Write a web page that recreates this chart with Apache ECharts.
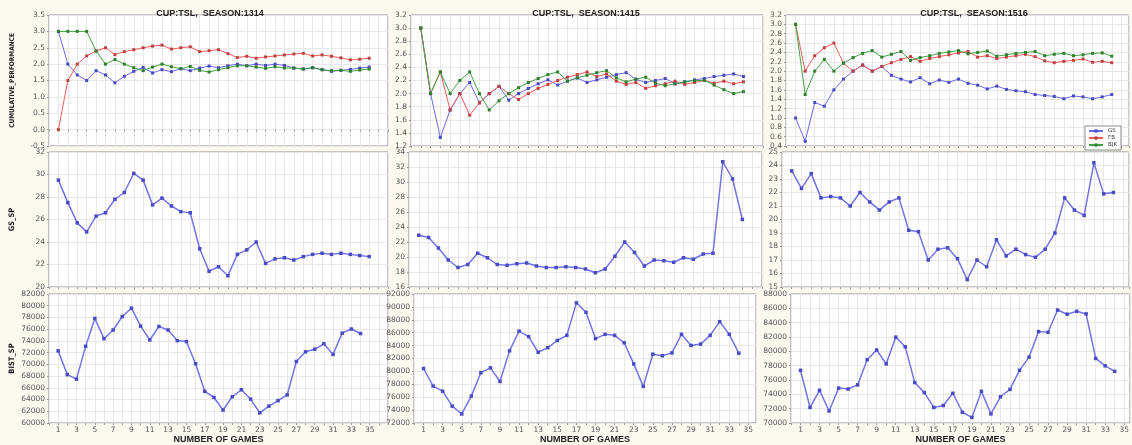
<!DOCTYPE html>
<html>
<head>
<meta charset="utf-8">
<script src="https://cdn.jsdelivr.net/npm/echarts@6/dist/echarts.min.js"></script>
<style>
  html, body { margin: 0; padding: 0; background: #fcf9ef; }
  #main { width: 1132px; height: 445px; }
</style>
</head>
<body>
<div id="main"></div>
<script>
// games 1..34
const games = [1,2,3,4,5,6,7,8,9,10,11,12,13,14,15,16,17,18,19,20,21,22,23,24,25,26,27,28,29,30,31,32,33,34];
const xTickLabels = [1,3,5,7,9,11,13,15,17,19,21,23,25,27,29,31,33,35];
const seasons = ['1314', '1415', '1516'];
const teams = ['GS', 'FB', 'BJK'];
const rowNames = ['CUMULATIVE_PERFORMANCE', 'GS_SP', 'BIST_SP'];

// cumulative performance (points per game)
const gsCum1314 = [3.0,2.0,1.67,1.5,1.8,1.67,1.43,1.63,1.78,1.9,1.73,1.83,1.77,1.86,1.8,1.88,1.94,1.89,1.95,2.0,1.95,2.0,1.96,2.0,1.96,1.88,1.85,1.89,1.83,1.78,1.81,1.84,1.88,1.91];
const fbCum1314 = [0.0,1.5,2.0,2.25,2.4,2.5,2.29,2.38,2.44,2.5,2.55,2.58,2.46,2.5,2.53,2.38,2.41,2.44,2.32,2.2,2.24,2.18,2.22,2.25,2.28,2.31,2.33,2.25,2.28,2.24,2.19,2.13,2.15,2.18];
const bjkCum1314 = [3.0,3.0,3.0,3.0,2.4,2.0,2.14,2.0,1.89,1.8,1.91,2.0,1.92,1.86,1.93,1.81,1.76,1.83,1.89,1.95,1.95,1.91,1.87,1.92,1.88,1.88,1.85,1.89,1.83,1.8,1.81,1.78,1.82,1.85];

const gsCum1415 = [3.0,2.0,1.33,1.75,2.0,2.17,1.86,2.0,2.11,1.9,2.0,2.08,2.15,2.21,2.13,2.19,2.24,2.17,2.21,2.25,2.29,2.32,2.22,2.17,2.2,2.23,2.15,2.18,2.21,2.23,2.26,2.28,2.3,2.26];
const fbCum1415 = [3.0,2.0,2.33,1.75,2.0,1.67,1.86,2.0,2.11,2.0,1.91,2.0,2.08,2.14,2.2,2.25,2.29,2.33,2.26,2.3,2.19,2.14,2.17,2.08,2.12,2.15,2.19,2.14,2.17,2.2,2.16,2.19,2.15,2.18];
const bjkCum1415 = [3.0,2.0,2.33,2.0,2.2,2.33,2.0,1.75,1.89,2.0,2.09,2.17,2.23,2.29,2.33,2.19,2.24,2.28,2.32,2.35,2.24,2.18,2.22,2.25,2.16,2.12,2.15,2.18,2.2,2.2,2.13,2.06,2.0,2.03];

const gsCum1516 = [1.0,0.5,1.33,1.25,1.6,1.83,2.0,2.13,2.0,2.1,1.91,1.83,1.77,1.86,1.73,1.81,1.76,1.83,1.74,1.7,1.62,1.68,1.61,1.58,1.56,1.5,1.48,1.46,1.41,1.47,1.45,1.41,1.45,1.5];
const fbCum1516 = [3.0,2.0,2.33,2.5,2.6,2.17,2.0,2.13,2.0,2.1,2.18,2.25,2.31,2.21,2.27,2.31,2.35,2.39,2.42,2.3,2.33,2.27,2.3,2.33,2.36,2.31,2.22,2.18,2.21,2.23,2.26,2.19,2.21,2.18];
const bjkCum1516 = [3.0,1.5,2.0,2.25,2.0,2.17,2.29,2.38,2.44,2.3,2.36,2.42,2.23,2.29,2.33,2.38,2.41,2.44,2.37,2.4,2.43,2.32,2.35,2.38,2.4,2.42,2.33,2.36,2.38,2.33,2.35,2.38,2.39,2.32];

// GS share price
const gsSp1314 = [29.5,27.5,25.7,24.9,26.3,26.6,27.8,28.4,30.1,29.5,27.3,27.9,27.2,26.7,26.6,23.4,21.4,21.8,21.0,22.9,23.3,24.0,22.1,22.5,22.6,22.4,22.7,22.9,23.0,22.9,23.0,22.9,22.8,22.7];
const gsSp1415 = [22.9,22.6,21.2,19.6,18.6,19.0,20.5,19.9,19.0,18.9,19.1,19.2,18.8,18.6,18.6,18.7,18.6,18.4,17.9,18.4,20.1,22.0,20.6,18.8,19.6,19.5,19.3,19.9,19.7,20.4,20.5,32.7,30.4,25.0];
const gsSp1516 = [23.6,22.3,23.4,21.6,21.7,21.6,21.0,22.0,21.3,20.7,21.3,21.6,19.2,19.1,17.0,17.8,17.9,17.1,15.55,17.0,16.5,18.5,17.3,17.8,17.4,17.2,17.8,19.0,21.6,20.7,20.3,24.2,21.9,22.0];

// BIST index
const bistSp1314 = [72300,68250,67480,73070,77840,74380,75860,78160,79590,76520,74160,76470,75860,74050,73890,70110,65400,64360,62220,64470,65670,64080,61730,62880,63810,64800,70490,72140,72580,73510,71700,75320,76030,75260];
const bistSp1415 = [80450,77730,76930,74610,73400,76170,79800,80550,78440,83180,86250,85390,82970,83680,84790,85590,90630,89170,85090,85750,85590,84440,81160,77680,82670,82420,82870,85750,84030,84230,85590,87710,85750,82820];
const bistSp1516 = [77350,72170,74560,71680,74870,74740,75320,78830,80180,78250,81980,80630,75640,74240,72170,72440,74150,71500,70780,74420,71270,73660,74690,77350,79190,82750,82660,85760,85180,85580,85220,79010,77980,77210];

// y axis ticks per row / column
const yMin = [[-0.5, 1.2, 0.4], [20, 16, 15], [60000, 72000, 70000]];
const yMax = [[3.5, 3.2, 3.2], [32, 34, 25], [82000, 92000, 88000]];
const yStep = [[0.5, 0.2, 0.2], [2, 2, 1], [2000, 2000, 2000]];
const xMax = [[36, 36, 35.8], [36, 36, 35.6], [37, 35.8, 35.6]];

const cumData = [
  [gsCum1314, fbCum1314, bjkCum1314],
  [gsCum1415, fbCum1415, bjkCum1415],
  [gsCum1516, fbCum1516, bjkCum1516]
];
const gsSpData = [gsSp1314, gsSp1415, gsSp1516];
const bistData = [bistSp1314, bistSp1415, bistSp1516];

// plot rectangles [left, top, width, height]
const rects = [
  [[49, 15, 339, 131], [411, 15, 352, 131], [786, 15, 343, 131]],
  [[49, 152, 339, 135], [409, 152, 353, 135], [782, 152, 347, 135]],
  [[49, 294, 339, 134], [414, 294, 342, 134], [791, 294, 340, 134]]
];
const titleCenters = [205, 581, 969];
const nameSizes = [6.5, 7.5, 7.5];

const teamColors = { GS: '#6a6ae6', FB: '#ec5c5c', BJK: '#43a243' };
const markColors = { GS: '#4848c0', FB: '#c04040', BJK: '#2f7f2f' };
const nameFont = "'DejaVu Sans Condensed', 'Liberation Sans', sans-serif";

const pair = vals => games.map((g, i) => [g, vals[i]]);

const grids = [], xAxes = [], yAxes = [], series = [];
let gi = 0;
for (let r = 0; r < 3; r++) {
  for (let c = 0; c < 3; c++) {
    const [l, t, w, h] = rects[r][c];
    grids.push({
      left: l, top: t, width: w, height: h,
      show: true, backgroundColor: '#ffffff', borderColor: '#8c8c8c', borderWidth: 1
    });
    xAxes.push({
      gridIndex: gi, type: 'value', min: 0, max: xMax[r][c], interval: 1,
      axisLine: { show: false },
      axisTick: { show: true, length: 2, lineStyle: { color: '#999' } },
      axisLabel: {
        show: r === 2, fontSize: 7.5, color: '#555', margin: 3, fontFamily: 'DejaVu Sans',
        showMaxLabel: false,
        formatter: v => (xTickLabels.indexOf(v) >= 0 ? String(v) : '')
      },
      splitLine: { show: true, lineStyle: { color: '#e8e8e8', width: 1 } },
      name: r === 2 ? 'NUMBER OF GAMES' : '',
      nameLocation: 'middle', nameGap: 12,
      nameTextStyle: { fontFamily: 'Liberation Sans', fontWeight: 'bold', fontSize: 9, color: '#222' }
    });
    yAxes.push({
      gridIndex: gi, type: 'value', min: yMin[r][c], max: yMax[r][c], interval: yStep[r][c],
      axisLine: { show: false },
      axisTick: { show: true, length: 2, lineStyle: { color: '#999' } },
      axisLabel: {
        fontSize: 7.5, color: '#555', margin: 4, fontFamily: 'DejaVu Sans',
        formatter: r === 0 ? (v => v.toFixed(1)) : (v => String(v))
      },
      splitLine: { show: true, lineStyle: { color: '#e8e8e8', width: 1 } },
      name: c === 0 ? rowNames[r] : '',
      nameLocation: 'middle', nameGap: 33,
      nameTextStyle: { fontFamily: nameFont, fontWeight: 'bold', fontSize: nameSizes[r], color: '#222' }
    });
    if (r === 0) {
      teams.forEach((tm, k) => {
        series.push({
          name: tm, type: 'line', xAxisIndex: gi, yAxisIndex: gi,
          data: pair(cumData[c][k]),
          symbol: 'rect', symbolSize: 3, showAllSymbol: true,
          lineStyle: { color: teamColors[tm], width: 1 },
          itemStyle: { color: markColors[tm] },
          animation: false
        });
      });
    } else {
      const vals = r === 1 ? gsSpData[c] : bistData[c];
      series.push({
        name: rowNames[r] + '_' + seasons[c], type: 'line', xAxisIndex: gi, yAxisIndex: gi,
        data: pair(vals),
        symbol: 'rect', symbolSize: 3.5, showAllSymbol: true,
        lineStyle: { color: '#7373e6', width: 1.5 },
        itemStyle: { color: '#4a4ac4' },
        animation: false
      });
    }
    gi++;
  }
}

const titles = seasons.map((s, c) => ({
  text: 'CUP:TSL,  SEASON:' + s,
  left: titleCenters[c], top: 4, textAlign: 'center',
  textStyle: { fontFamily: 'Liberation Sans', fontWeight: 'bold', fontSize: 9, color: '#222' }
}));

const chart = echarts.init(document.getElementById('main'));
chart.setOption({
  backgroundColor: '#fcf9ef',
  animation: false,
  title: titles,
  legend: {
    data: teams,
    orient: 'vertical',
    left: 1085, top: 126,
    itemWidth: 14, itemHeight: 4, itemGap: 1,
    padding: [2, 4, 2, 3],
    backgroundColor: '#ffffff', borderColor: '#8c8c8c', borderWidth: 1,
    textStyle: { fontSize: 5.5, color: '#333', fontFamily: 'DejaVu Sans' }
  },
  grid: grids,
  xAxis: xAxes,
  yAxis: yAxes,
  series: series
});
</script>
</body>
</html>
